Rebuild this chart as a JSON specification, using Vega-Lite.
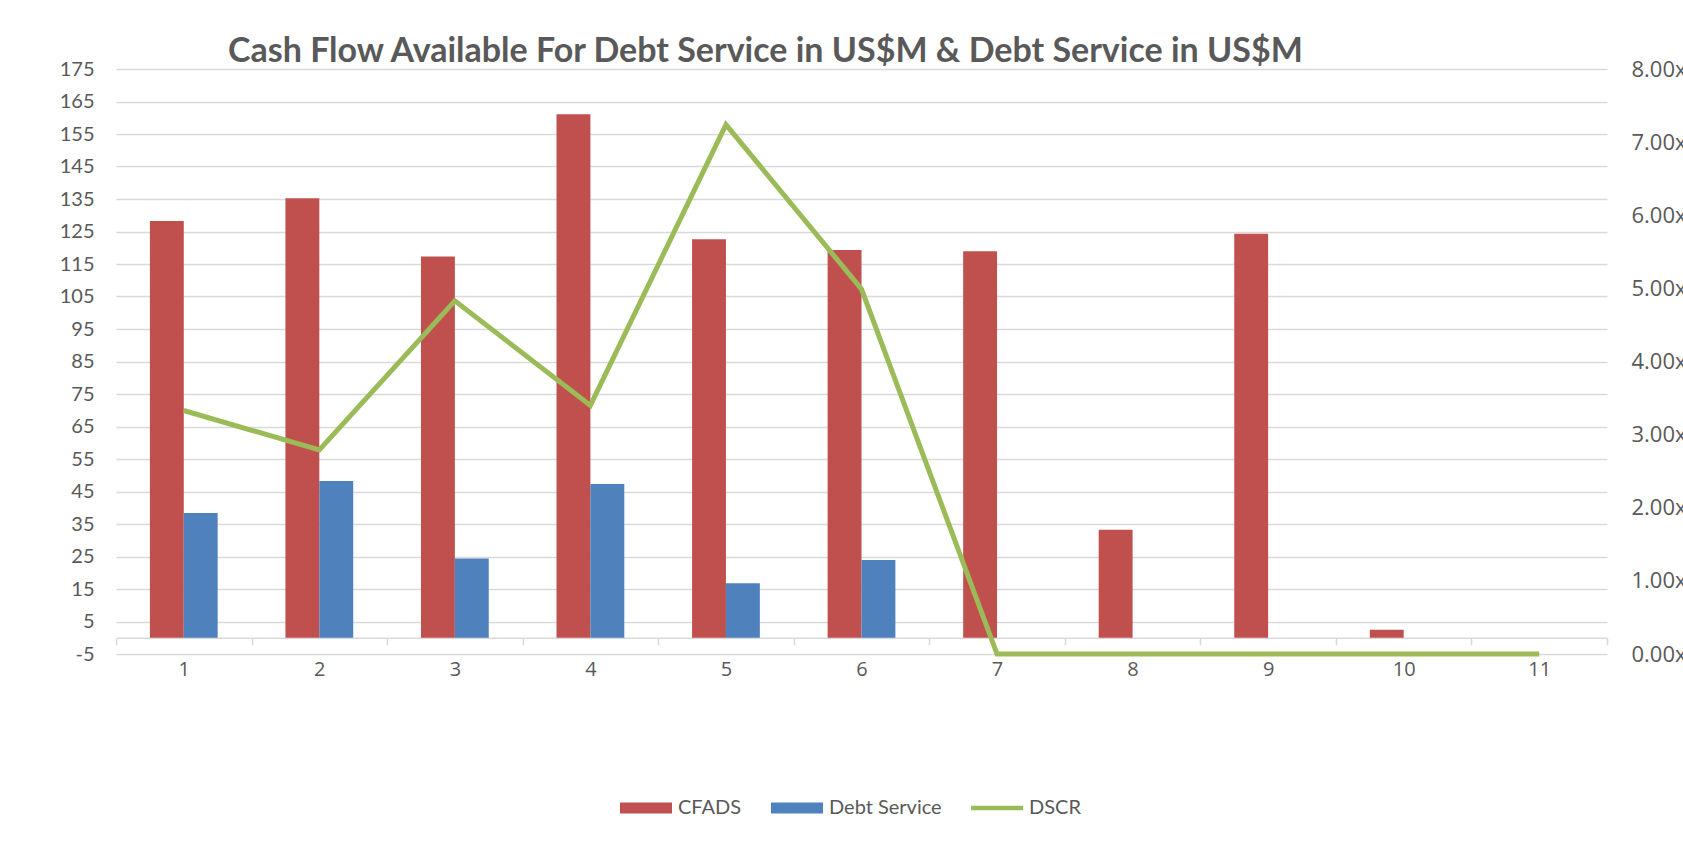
{
  "$schema": "https://vega.github.io/schema/vega-lite/v6.json",
  "width": 1491,
  "height": 585,
  "autosize": {"type": "none"},
  "padding": {"left": 116, "top": 69, "right": 76, "bottom": 191},
  "background": "white",
  "title": {
    "text": "Cash Flow Available For Debt Service in US$M & Debt Service in US$M",
    "anchor": "start",
    "frame": "group",
    "dx": 112,
    "baseline": "alphabetic",
    "offset": -38,
    "font": "Lato",
    "fontSize": 34,
    "fontWeight": "bold",
    "color": "#595959"
  },
  "config": {
    "view": {"stroke": null},
    "axis": {"labelColor": "#595959"},
    "legend": {
      "padding": 0,
      "labelFont": "Lato",
      "labelFontSize": 20,
      "labelColor": "#595959",
      "labelOffset": 6,
      "columnPadding": 29,
      "symbolOffset": 0,
      "title": null
    }
  },
  "resolve": {"scale": {"y": "independent"}},
  "layer": [
    {
      "data": {
        "values": [
          {"period": 1, "series": "CFADS", "value": 128.2},
          {"period": 1, "series": "Debt Service", "value": 38.4},
          {"period": 2, "series": "CFADS", "value": 135.2},
          {"period": 2, "series": "Debt Service", "value": 48.2},
          {"period": 3, "series": "CFADS", "value": 117.3},
          {"period": 3, "series": "Debt Service", "value": 24.4},
          {"period": 4, "series": "CFADS", "value": 161.1},
          {"period": 4, "series": "Debt Service", "value": 47.3},
          {"period": 5, "series": "CFADS", "value": 122.6},
          {"period": 5, "series": "Debt Service", "value": 16.8},
          {"period": 6, "series": "CFADS", "value": 119.3},
          {"period": 6, "series": "Debt Service", "value": 23.9},
          {"period": 7, "series": "CFADS", "value": 118.9},
          {"period": 7, "series": "Debt Service", "value": 0},
          {"period": 8, "series": "CFADS", "value": 33.2},
          {"period": 8, "series": "Debt Service", "value": 0},
          {"period": 9, "series": "CFADS", "value": 124.3},
          {"period": 9, "series": "Debt Service", "value": 0},
          {"period": 10, "series": "CFADS", "value": 2.5},
          {"period": 10, "series": "Debt Service", "value": 0},
          {"period": 11, "series": "CFADS", "value": 0},
          {"period": 11, "series": "Debt Service", "value": 0}
        ]
      },
      "mark": {"type": "bar"},
      "encoding": {
        "x": {
          "field": "period",
          "type": "ordinal",
          "scale": {"paddingInner": 0, "paddingOuter": 0},
          "axis": {
            "title": null,
            "labelAngle": 0,
            "offset": -16.25,
            "domainColor": "#d9d9d9",
            "domainWidth": 1.5,
            "tickColor": "#d9d9d9",
            "tickWidth": 1.5,
            "tickSize": 7,
            "tickBand": "extent",
            "labelFont": "Open Sans",
            "labelFontSize": 20,
            "labelPadding": 15
          }
        },
        "xOffset": {
          "field": "series",
          "type": "nominal",
          "sort": ["CFADS", "Debt Service"],
          "scale": {"paddingInner": 0, "paddingOuter": 1.053}
        },
        "y": {
          "field": "value",
          "type": "quantitative",
          "scale": {"domain": [-5, 175], "nice": false, "zero": false},
          "axis": {
            "title": null,
            "values": [-5, 5, 15, 25, 35, 45, 55, 65, 75, 85, 95, 105, 115, 125, 135, 145, 155, 165, 175],
            "labelExpr": "(datum.value < 0 ? '-' : '') + abs(datum.value)",
            "domain": false,
            "ticks": false,
            "gridColor": "#d9d9d9",
            "gridWidth": 1.5,
            "labelFont": "Lato",
            "labelFontSize": 20,
            "labelPadding": 22
          }
        },
        "y2": {"datum": 0},
        "color": {
          "field": "series",
          "type": "nominal",
          "scale": {
            "domain": ["CFADS", "Debt Service", "DSCR"],
            "range": ["#C0504D", "#4F81BD", "#9BBB59"]
          },
          "legend": {
            "orient": "none",
            "direction": "horizontal",
            "legendX": 504,
            "legendY": 713,
            "encode": {
              "symbols": {
                "update": {
                  "shape": {"signal": "datum.value === 'DSCR' ? 'M-1,-0.09H1V0.09H-1Z' : 'M-1,-0.21H1V0.21H-1Z'"},
                  "fill": {"signal": "scale('color', datum.value)"},
                  "stroke": {"value": "transparent"},
                  "strokeWidth": {"value": 0},
                  "size": {"value": 2704},
                  "opacity": {"value": 1}
                }
              }
            }
          }
        }
      }
    },
    {
      "data": {
        "values": [
          {"period": 1, "DSCR": 3.33},
          {"period": 2, "DSCR": 2.79},
          {"period": 3, "DSCR": 4.83},
          {"period": 4, "DSCR": 3.40},
          {"period": 5, "DSCR": 7.24},
          {"period": 6, "DSCR": 4.99},
          {"period": 7, "DSCR": 0},
          {"period": 8, "DSCR": 0},
          {"period": 9, "DSCR": 0},
          {"period": 10, "DSCR": 0},
          {"period": 11, "DSCR": 0}
        ]
      },
      "mark": {"type": "line", "strokeWidth": 5, "strokeJoin": "miter"},
      "encoding": {
        "x": {"field": "period", "type": "ordinal"},
        "y": {
          "field": "DSCR",
          "type": "quantitative",
          "scale": {"domain": [0, 8], "nice": false, "zero": false},
          "axis": {
            "orient": "right",
            "title": null,
            "values": [0, 1, 2, 3, 4, 5, 6, 7, 8],
            "labelExpr": "format(datum.value, '.2f') + 'x'",
            "domain": false,
            "ticks": false,
            "grid": false,
            "labelFont": "Open Sans",
            "labelFontSize": 22,
            "labelPadding": 24
          }
        },
        "color": {"datum": "DSCR", "type": "nominal"}
      }
    }
  ]
}
